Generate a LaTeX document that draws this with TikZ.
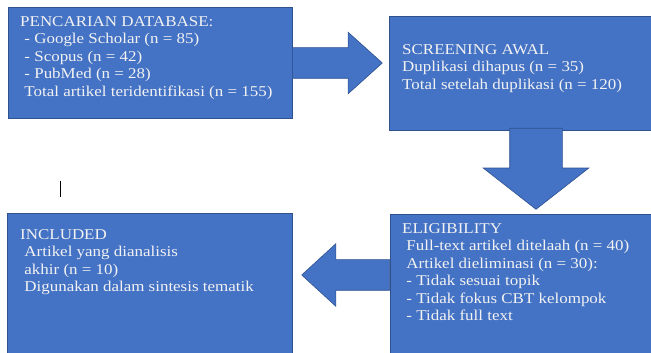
\documentclass[tikz,border=0pt]{standalone}
\usepackage{fontspec}
\setmainfont{Liberation Serif}
\usetikzlibrary{shapes.arrows}
\definecolor{boxblue}{HTML}{4472C4}
\definecolor{edgeblue}{HTML}{2F528F}
\definecolor{txtwhite}{HTML}{F2F2F2}
\tikzset{
  stage/.style={draw=edgeblue, line width=0.8pt, fill=boxblue, rectangle, inner sep=0pt},
  blockarrow/.style={draw=edgeblue, line width=0.6pt, fill=boxblue, single arrow,
    anchor=tail, text height=0pt, text depth=0pt, text width=0pt},
  stagetext/.style={anchor=north west, inner sep=0pt, align=left, text=txtwhite,
    font=\fontsize{15}{17.5}\selectfont, xscale=1.13, transform shape}
}
\begin{document}
\begin{tikzpicture}[x=1pt,y=1pt]
  \useasboundingbox (0,0) rectangle (651,353);
  \clip (0,0) rectangle (651,353);

  \node[stage, minimum width=284pt, minimum height=111pt] (search) at (150,290.5) {};
  \node[stage, minimum width=271pt, minimum height=114pt] (screen) at (524.5,280) {};
  \node[stage, minimum width=285pt, minimum height=150pt] (incl) at (149.5,65) {};
  \node[stage, minimum width=270pt, minimum height=149pt] (elig) at (525,64.5) {};

  \node[stagetext] (searchtxt) at (20,337) {PENCARIAN DATABASE:\\
    \ - Google Scholar (n = 85)\\
    \ - Scopus (n = 42)\\
    \ - PubMed (n = 28)\\
    \ Total artikel teridentifikasi (n = 155)};
  \node[stagetext] (screentxt) at (402,309) {SCREENING AWAL\\
    Duplikasi dihapus (n = 35)\\
    Total setelah duplikasi (n = 120)};
  \node[stagetext] (incltxt) at (20,124) {INCLUDED\\
    \ Artikel yang dianalisis\\
    \ akhir (n = 10)\\
    \ Digunakan dalam sintesis tematik};
  \node[stagetext] (eligtxt) at (402,130) {ELIGIBILITY\\
    \ Full-text artikel ditelaah (n = 40)\\
    \ Artikel dieliminasi (n = 30):\\
    \ - Tidak sesuai topik\\
    \ - Tidak fokus CBT kelompok\\
    \ - Tidak full text};

  \node[blockarrow, minimum height=90pt, inner xsep=0pt, inner ysep=15pt,
    single arrow head extend=15.5pt, single arrow tip angle=84] (a1) at (292,290) {};
  \node[blockarrow, minimum height=81pt, inner xsep=26pt, inner ysep=0pt,
    single arrow head extend=26.5pt, single arrow tip angle=104,
    shape border rotate=270] (a2) at (536,225) {};
  \node[blockarrow, minimum height=88pt, inner xsep=0pt, inner ysep=15pt,
    single arrow head extend=16pt, single arrow tip angle=85,
    shape border rotate=180] (a3) at (390,78) {};

  \draw[line width=0.8pt] (60,172) -- (60,156);
\end{tikzpicture}
\end{document}
